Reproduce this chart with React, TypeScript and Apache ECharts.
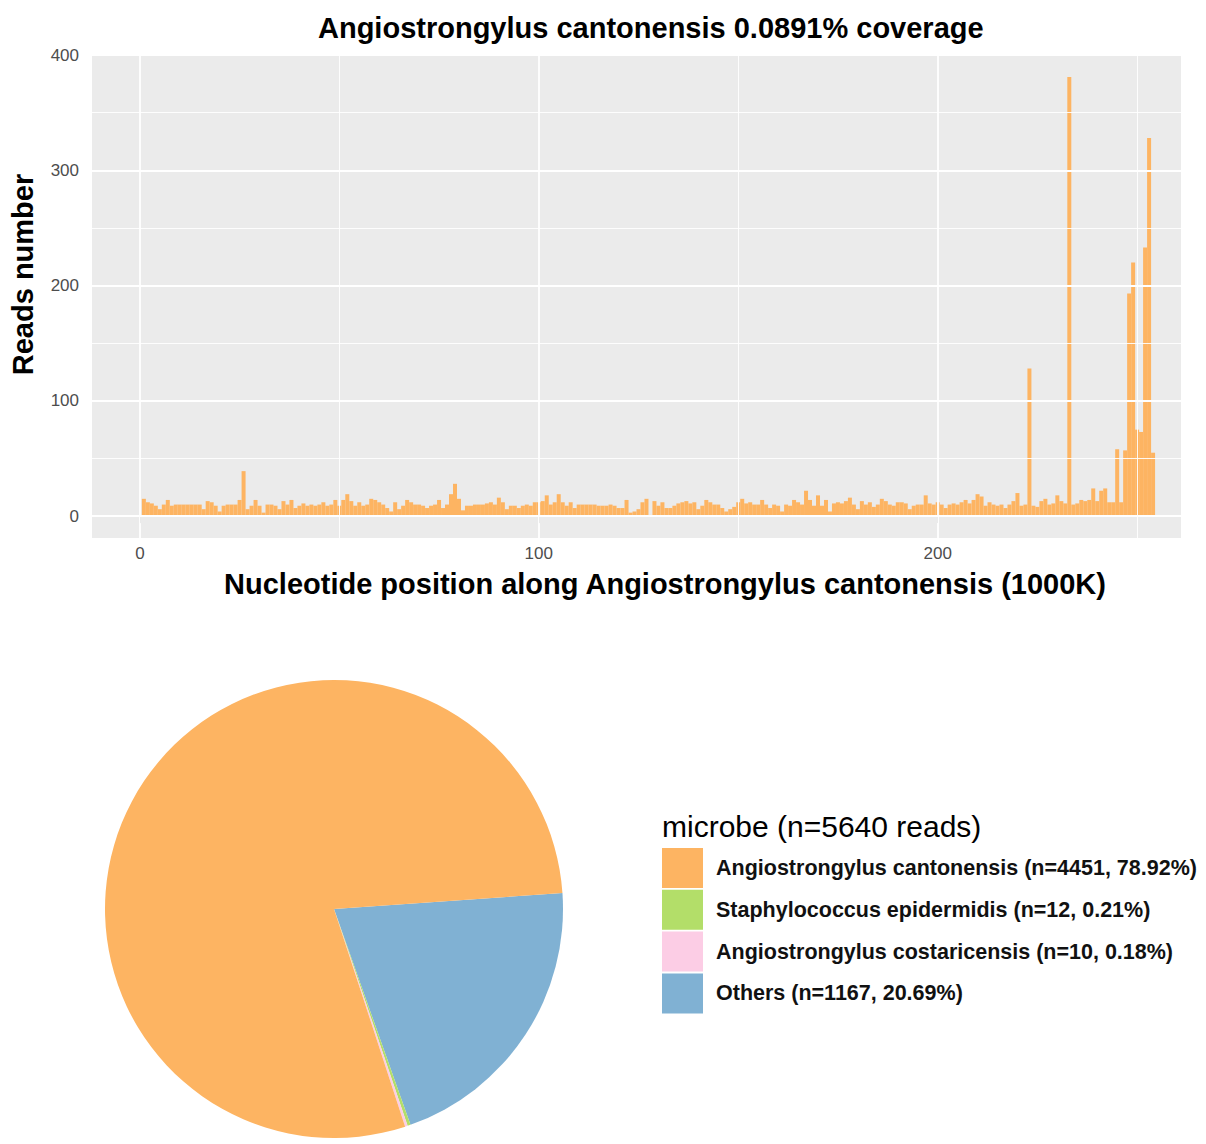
import React, { useEffect, useRef } from 'react';
import * as echarts from 'echarts';

// Reads per 1000K bin along Angiostrongylus cantonensis (bins 1..254)
const readsPerBin = [
  15, 12, 11, 9, 6, 10, 14, 9, 10, 10,
  10, 10, 10, 10, 10, 6, 13, 12, 9, 4,
  9, 10, 10, 10, 14, 39, 6, 9, 14, 9,
  3, 10, 10, 9, 6, 13, 10, 14, 7, 9,
  11, 9, 10, 9, 10, 12, 9, 10, 14, 9,
  14, 19, 13, 9, 12, 9, 10, 15, 14, 12,
  10, 7, 4, 12, 6, 9, 14, 12, 10, 10,
  9, 7, 9, 10, 14, 7, 10, 19, 28, 15,
  5, 9, 9, 10, 10, 10, 11, 12, 10, 16,
  12, 6, 9, 9, 7, 9, 10, 9, 12, 12,
  13, 18, 10, 12, 19, 12, 9, 12, 7, 10,
  10, 10, 10, 10, 9, 9, 9, 10, 9, 7,
  7, 14, 3, 4, 6, 12, 15, 1, 13, 9,
  12, 7, 7, 9, 11, 12, 13, 11, 12, 6,
  9, 14, 12, 10, 10, 7, 4, 6, 8, 12,
  15, 11, 12, 10, 10, 14, 10, 7, 10, 9,
  4, 10, 9, 14, 12, 10, 22, 14, 9, 18,
  9, 14, 4, 11, 12, 11, 13, 16, 10, 6,
  13, 10, 12, 8, 10, 15, 13, 10, 9, 12,
  12, 11, 6, 9, 10, 10, 18, 11, 10, 12,
  10, 7, 10, 11, 10, 12, 14, 11, 14, 19,
  17, 9, 12, 10, 9, 10, 7, 10, 13, 20,
  9, 10, 128, 9, 8, 13, 15, 10, 11, 18,
  13, 11, 381, 10, 11, 14, 13, 14, 24, 13,
  22, 24, 12, 12, 58, 12, 57, 193, 220, 75,
  73, 233, 328, 55
];

const xTickValues = [0, 100, 200];
const xMinorGrid = [50, 150, 250];
const yTickValues = [0, 100, 200, 300, 400];
const yMinorGrid = [50, 150, 250, 350];

const microbeNames = [
  'Angiostrongylus cantonensis',
  'Staphylococcus epidermidis',
  'Angiostrongylus costaricensis',
  'Others'
];
const microbeCounts = [4451, 12, 10, 1167];
const microbeColors = ['#FDB462', '#B3DE69', '#FCCDE5', '#80B1D3'];
const pieDrawOrder = [3, 1, 2, 0];

const FONT = '"Liberation Sans", Arial, Helvetica, sans-serif';

export default function App() {
  const ref = useRef<HTMLDivElement>(null);

  useEffect(() => {
    document.body.style.margin = '0';
    if (!ref.current) return;
    const chart = echarts.init(ref.current, null, { renderer: 'svg' });

    const total = microbeCounts.reduce((a, b) => a + b, 0);
    const labels = microbeNames.map(
      (n, i) => `${n} (n=${microbeCounts[i]}, ${((microbeCounts[i] / total) * 100).toFixed(2)}%)`
    );
    const barData = readsPerBin.map((v, i) => [i + 1, v]);

    const gridLines = [
      ...yTickValues.map((v) => ({ yAxis: v, lineStyle: { width: 1.8 } })),
      ...yMinorGrid.map((v) => ({ yAxis: v, lineStyle: { width: 0.9 } })),
      ...xTickValues.map((v) => ({ xAxis: v, lineStyle: { width: 1.8 } })),
      ...xMinorGrid.map((v) => ({ xAxis: v, lineStyle: { width: 0.9 } }))
    ];

    chart.setOption({
      animation: false,
      textStyle: { fontFamily: FONT },
      title: [
        {
          text: 'Angiostrongylus cantonensis 0.0891% coverage',
          left: 318,
          top: 13,
          padding: 0,
          textStyle: { fontSize: 29, fontWeight: 'bold', color: '#000', fontFamily: FONT }
        },
        {
          text: `microbe (n=${total} reads)`,
          left: 662,
          top: 811,
          padding: 0,
          textStyle: { fontSize: 30, fontWeight: 'normal', color: '#000', fontFamily: FONT }
        }
      ],
      grid: {
        left: 92,
        right: 25,
        top: 55,
        bottom: 606,
        show: true,
        backgroundColor: '#EBEBEB',
        borderWidth: 0,
        containLabel: false,
        outerBoundsMode: 'none'
      },
      xAxis: {
        type: 'value',
        min: -12,
        max: 261,
        name: 'Nucleotide position along Angiostrongylus cantonensis (1000K)',
        nameLocation: 'middle',
        nameGap: 31,
        nameTextStyle: {
          fontSize: 29,
          fontWeight: 'bold',
          color: '#000',
          fontFamily: FONT,
          padding: [0, 0, 0, 57]
        },
        axisLine: { show: false },
        axisTick: { show: true, length: 7, customValues: xTickValues, lineStyle: { color: '#333', width: 1 } },
        axisLabel: { customValues: xTickValues, color: '#4D4D4D', fontSize: 17, margin: 7, fontFamily: FONT },
        splitLine: { show: false }
      },
      yAxis: {
        type: 'value',
        min: -19,
        max: 400,
        name: 'Reads number',
        nameLocation: 'middle',
        nameGap: 55,
        nameRotate: 90,
        nameTextStyle: {
          fontSize: 29,
          fontWeight: 'bold',
          color: '#000',
          fontFamily: FONT,
          padding: [0, 0, 0, 44]
        },
        axisLine: { show: false },
        axisTick: { show: true, length: 7, customValues: yTickValues, lineStyle: { color: '#333', width: 1 } },
        axisLabel: { customValues: yTickValues, color: '#4D4D4D', fontSize: 17, margin: 13, fontFamily: FONT },
        splitLine: { show: false }
      },
      legend: {
        data: labels,
        orient: 'vertical',
        left: 662,
        top: 848,
        padding: 0,
        itemWidth: 41,
        itemHeight: 40,
        itemGap: 1.8,
        icon: 'rect',
        selectedMode: false,
        textStyle: { fontSize: 21.5, fontWeight: 'bold', color: '#111', fontFamily: FONT, padding: [0, 0, 0, 8] }
      },
      series: [
        {
          type: 'line',
          data: [],
          silent: true,
          z: 1,
          markLine: {
            silent: true,
            symbol: 'none',
            label: { show: false },
            lineStyle: { color: '#FFFFFF', type: 'solid' },
            data: gridLines
          }
        },
        {
          type: 'bar',
          data: barData,
          barWidth: 4,
          z: 2,
          itemStyle: { color: '#FDB462' },
          silent: true
        },
        {
          type: 'pie',
          center: [334, 909],
          radius: 229,
          startAngle: 4,
          clockwise: true,
          silent: true,
          label: { show: false },
          labelLine: { show: false },
          itemStyle: { borderWidth: 0 },
          data: pieDrawOrder.map((i) => ({
            name: labels[i],
            value: microbeCounts[i],
            itemStyle: { color: microbeColors[i] }
          }))
        }
      ]
    });

    return () => chart.dispose();
  }, []);

  return <div ref={ref} style={{ width: 1206, height: 1144 }} />;
}
